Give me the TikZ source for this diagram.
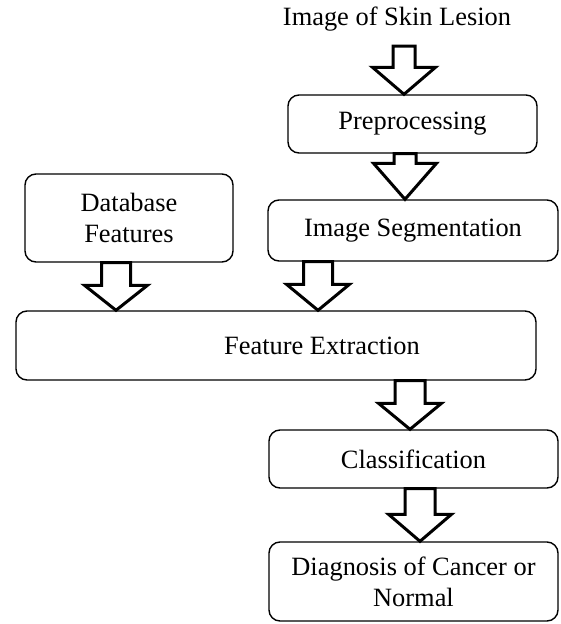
\documentclass[tikz,border=0pt]{standalone}
\usepackage{fontspec}
\setmainfont{Liberation Serif}
\usetikzlibrary{calc}
\newcommand{\blockarrow}[4]{% #1 top point, #2 target (tip y), #3 shaft half width, #4 head length
  \draw[barrow] let \p1=(#1), \p2=(#2) in
    (\x1-#3,\y1) -- (\x1+#3,\y1) -- (\x1+#3,\y2+#4) -- (\x1+31.5pt,\y2+#4) --
    (\x1,\y2) -- (\x1-31.5pt,\y2+#4) -- (\x1-#3,\y2+#4) -- cycle;}
\begin{document}
\begin{tikzpicture}[x=1pt,y=-1pt,
  txt/.style={font=\fontsize{26.4}{31}\selectfont, align=center, inner sep=0pt},
  box/.style={txt, draw, line width=1.4pt, rounded corners=11pt},
  barrow/.style={draw, line width=3pt, fill=white, line join=miter, miter limit=10}]
\useasboundingbox (0,0) rectangle (560,624);

\node[txt] (title) at (397,19) {Image of Skin Lesion};
\coordinate (start) at (404,46);

\node[box, minimum width=249pt, minimum height=58pt] (pre) at (412.5,124) {Preprocessing};
\node[box, minimum width=290pt, minimum height=61pt] (seg) at (413,230.5) {Image Segmentation};
\node[box, minimum width=208pt, minimum height=88pt] (db) at (129,218) {Database\\Features};
\node[box, minimum width=520pt, minimum height=69pt] (fe) at (276,345.5) {\hspace*{92pt}Feature Extraction};
\node[box, minimum width=289pt, minimum height=58pt] (cls) at (413.5,459) {Classification};
\node[box, minimum width=289pt, minimum height=79pt] (diag) at (413.5,581.5) {Diagnosis of Cancer or\\Normal};

\blockarrow{start}{pre.north}{11pt}{27pt}
\blockarrow{$(pre.south)+(-7.5,0)$}{seg.north}{11pt}{36pt}
\blockarrow{$(db.south)+(-13,0)$}{fe.north}{14.5pt}{25pt}
\blockarrow{$(seg.south)+(-95,0)$}{fe.north}{14.5pt}{26pt}
\blockarrow{$(fe.south)+(134,0)$}{cls.north}{15pt}{26pt}
\blockarrow{$(cls.south)+(6.5,0)$}{diag.north}{15pt}{27pt}
\end{tikzpicture}
\end{document}
